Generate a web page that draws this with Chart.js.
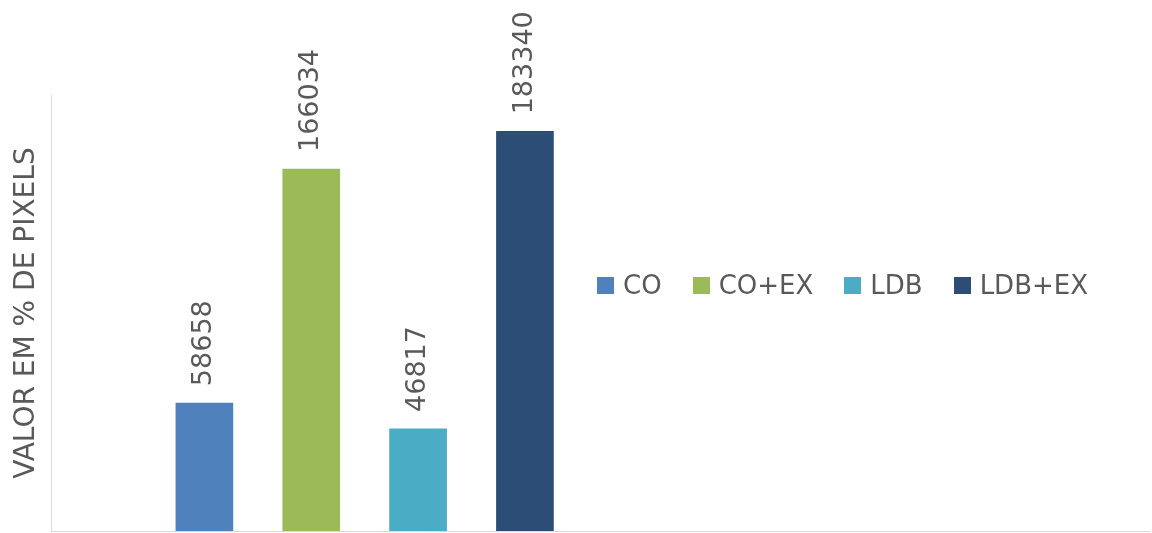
<!DOCTYPE html>
<html lang="pt">
<head>
  <meta charset="UTF-8">
  <title>Valor em % de pixels</title>
  <script src="https://cdn.jsdelivr.net/npm/chart.js"></script>
  <style>
    body {
      margin: 0;
      background: #fff;
      font-family: "DejaVu Sans", sans-serif;
    }

    #wrap {
      position: relative;
      width: 1152px;
      height: 533px;
    }

    #legend {
      position: absolute;
      left: 597px;
      top: 270px;
      display: flex;
      align-items: center;
      color: #595959;
      font-size: 26px;
    }

    .item {
      display: flex;
      align-items: center;
      margin-right: 31px;
    }

    .box {
      width: 17px;
      height: 17px;
      margin-right: 9px;
    }
  </style>
</head>
<body>

  <div id="wrap">
    <canvas id="chart" width="1152" height="533"></canvas>
    <div id="legend"></div>
  </div>

<script>
// series names, values and colours
const categories = ['CO', 'CO+EX', 'LDB', 'LDB+EX'];
const values = [58658, 166034, 46817, 183340];
const colors = ['#4f81bd', '#9bbb59', '#4bacc6', '#2c4d75'];
const yTitle = 'VALOR EM % DE PIXELS';

const textColor = '#595959';
const axisColor = '#d9d9d9';

// one dataset per series so every bar gets its own legend entry
const datasets = categories.map((name, i) => ({
  label: name,
  data: [{ x: i + 1, y: values[i] }],
  backgroundColor: colors[i],
  barThickness: 57,
  grouped: false
}));

// vertical value labels above each bar
const valueLabels = {
  id: 'valueLabels',
  afterDatasetsDraw(chart) {
    const ctx = chart.ctx;
    ctx.save();
    ctx.fillStyle = textColor;
    ctx.font = '27px "DejaVu Sans"';
    ctx.textAlign = 'left';
    ctx.textBaseline = 'middle';
    chart.data.datasets.forEach((ds, i) => {
      const bar = chart.getDatasetMeta(i).data[0];
      ctx.save();
      ctx.translate(bar.x, bar.y - 17);
      ctx.rotate(-Math.PI / 2);
      ctx.fillText(String(values[i]), 0, 0);
      ctx.restore();
    });
    ctx.restore();
  }
};

const chart = new Chart(document.getElementById('chart'), {
  type: 'bar',
  data: { datasets },
  options: {
    responsive: false,
    animation: false,
    devicePixelRatio: 1,
    layout: {
      padding: { left: 10, right: 2, top: 95, bottom: 2 }
    },
    plugins: {
      legend: { display: false },
      tooltip: { enabled: false }
    },
    scales: {
      x: {
        type: 'linear',
        offset: false,
        min: -0.43,
        max: 9.85,
        ticks: { display: false, padding: 0 },
        grid: { display: false, drawTicks: false },
        border: { color: axisColor }
      },
      y: {
        min: 0,
        max: 200000,
        ticks: { display: false, padding: 0 },
        grid: { display: false, drawTicks: false },
        border: { color: axisColor },
        title: {
          display: true,
          text: yTitle,
          color: textColor,
          font: { family: '"DejaVu Sans"', size: 28 },
          padding: { top: 0, bottom: 8 }
        }
      }
    }
  },
  plugins: [valueLabels]
});

// html legend built from the datasets
const legend = document.getElementById('legend');
chart.data.datasets.forEach(ds => {
  const item = document.createElement('div');
  item.className = 'item';
  const box = document.createElement('span');
  box.className = 'box';
  box.style.background = ds.backgroundColor;
  const label = document.createElement('span');
  label.textContent = ds.label;
  item.appendChild(box);
  item.appendChild(label);
  legend.appendChild(item);
});
</script>
</body>
</html>
